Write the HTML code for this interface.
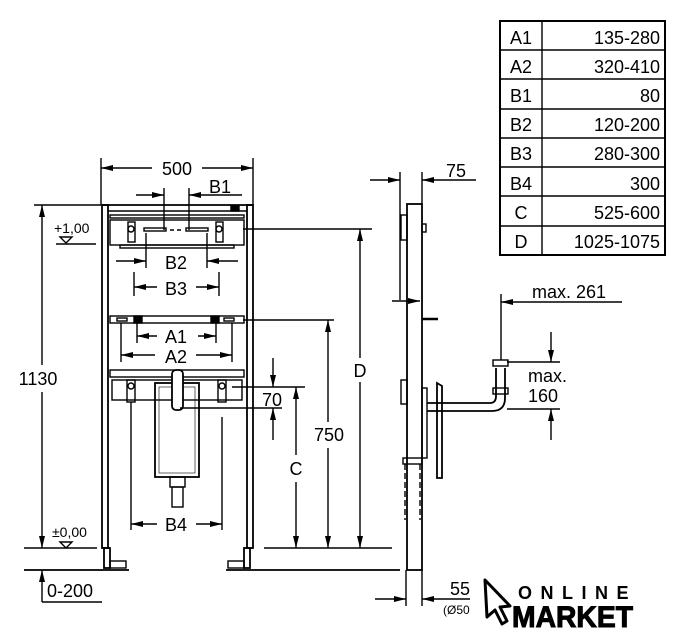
<!DOCTYPE html>
<html><head><meta charset="utf-8"><style>
html,body{margin:0;padding:0;background:#fff;}
svg{display:block;}
text{font-family:"Liberation Sans",sans-serif;fill:#000;}
</style></head><body>
<svg width="687" height="640" viewBox="0 0 687 640" xmlns="http://www.w3.org/2000/svg">
<defs>
<marker id="a" viewBox="0 0 12 6" refX="12" refY="3" markerWidth="13" markerHeight="6" orient="auto" markerUnits="userSpaceOnUse">
<path d="M0,0 L12,3 L0,6 Z" fill="#000"/></marker>
</defs>
<g stroke="#000" fill="none" stroke-width="1.4">
<rect x="500" y="21" width="165" height="234" stroke-width="2"/>
<line x1="542" y1="21" x2="542" y2="255"/>
<line x1="500" y1="50" x2="665" y2="50"/><line x1="500" y1="79" x2="665" y2="79"/>
<line x1="500" y1="109" x2="665" y2="109"/><line x1="500" y1="138" x2="665" y2="138"/>
<line x1="500" y1="167" x2="665" y2="167"/><line x1="500" y1="196" x2="665" y2="196"/>
<line x1="500" y1="226" x2="665" y2="226"/>

<rect x="102" y="205" width="6" height="343" stroke-width="1.8"/>
<rect x="247" y="205" width="6" height="343" stroke-width="1.8"/>
<rect x="104" y="548" width="6" height="20" stroke-width="1.8"/>
<rect x="244" y="548" width="6" height="20" stroke-width="1.8"/>
<line x1="102" y1="205" x2="253" y2="205" stroke-width="1.8"/>
<line x1="108" y1="211" x2="247" y2="211"/>
<rect x="110" y="215" width="134" height="3"/>
<rect x="110" y="220" width="134" height="25"/>
<rect x="120" y="245" width="114" height="3"/>
<rect x="231" y="206" width="8" height="5" fill="#000"/>
<rect x="128" y="222" width="7" height="20"/><rect x="216" y="222" width="7" height="20"/>
<circle cx="131" cy="229" r="3"/><circle cx="219" cy="229" r="3"/>
<rect x="144" y="228" width="22" height="3"/><rect x="186" y="228" width="22" height="3"/>
<line x1="170" y1="230" x2="182" y2="230" stroke-dasharray="4 3"/>
<rect x="110" y="316" width="134" height="7"/>
<rect x="134" y="316" width="8" height="7" fill="#000"/><rect x="211" y="316" width="8" height="7" fill="#000"/>
<rect x="117" y="318" width="10" height="3"/><rect x="224" y="318" width="10" height="3"/>
<rect x="110" y="370" width="134" height="7"/>
<rect x="112" y="380" width="130" height="20"/>
<rect x="127" y="380" width="8" height="22"/><rect x="218" y="380" width="8" height="22"/>
<circle cx="131" cy="386" r="3"/><circle cx="222" cy="386" r="3"/>
<rect x="155" y="383" width="44" height="94" stroke-width="1.8"/>
<rect x="159" y="387" width="36" height="86" stroke-width="0.6"/>
<rect x="172" y="370" width="11" height="40" rx="4" fill="#fff" stroke-width="1.8"/>
<rect x="170" y="477" width="15" height="10"/><rect x="172" y="487" width="11" height="20"/>
<line x1="131" y1="402" x2="131" y2="530"/>
<line x1="222" y1="417" x2="222" y2="530"/>
<rect x="110" y="561" width="16" height="7"/><rect x="228" y="561" width="16" height="7"/>

<line x1="24" y1="548" x2="97" y2="548"/>
<line x1="264" y1="548" x2="392" y2="548"/>
<line x1="24" y1="570" x2="129" y2="570" stroke-width="1.8"/>
<line x1="226" y1="570" x2="400" y2="570" stroke-width="1.8"/>
<line x1="56" y1="244" x2="96" y2="244"/>
<path d="M60,237 L72,237 L66,243 Z"/>
<path d="M60,542 L72,542 L66,548 Z"/>

<line x1="101" y1="158" x2="101" y2="205"/><line x1="253" y1="158" x2="253" y2="205"/>
<line x1="152" y1="168" x2="101" y2="168" marker-end="url(#a)"/>
<line x1="202" y1="168" x2="253" y2="168" marker-end="url(#a)"/>
<line x1="164" y1="188" x2="164" y2="230"/><line x1="189" y1="188" x2="189" y2="230"/>
<line x1="136" y1="195" x2="164" y2="195" marker-end="url(#a)"/>
<line x1="242" y1="195" x2="189" y2="195" marker-end="url(#a)"/>
<line x1="146" y1="233" x2="146" y2="268"/><line x1="207" y1="233" x2="207" y2="268"/>
<line x1="116" y1="261" x2="146" y2="261" marker-end="url(#a)"/>
<line x1="238" y1="261" x2="207" y2="261" marker-end="url(#a)"/>
<line x1="134" y1="272" x2="134" y2="296"/><line x1="219" y1="272" x2="219" y2="296"/>
<line x1="157" y1="287" x2="134" y2="287" marker-end="url(#a)"/>
<line x1="196" y1="287" x2="219" y2="287" marker-end="url(#a)"/>
<line x1="137" y1="323" x2="137" y2="343"/><line x1="216" y1="323" x2="216" y2="343"/>
<line x1="157" y1="336" x2="137" y2="336" marker-end="url(#a)"/>
<line x1="198" y1="336" x2="216" y2="336" marker-end="url(#a)"/>
<line x1="121" y1="323" x2="121" y2="362"/><line x1="232" y1="323" x2="232" y2="362"/>
<line x1="155" y1="355" x2="121" y2="355" marker-end="url(#a)"/>
<line x1="196" y1="355" x2="232" y2="355" marker-end="url(#a)"/>
<line x1="157" y1="524" x2="131" y2="524" marker-end="url(#a)"/>
<line x1="196" y1="524" x2="222" y2="524" marker-end="url(#a)"/>
<line x1="34" y1="205" x2="101" y2="205"/>
<line x1="42" y1="365" x2="42" y2="205" marker-end="url(#a)"/>
<line x1="42" y1="392" x2="42" y2="548" marker-end="url(#a)"/>
<line x1="42" y1="602" x2="42" y2="570" marker-end="url(#a)"/>
<line x1="42" y1="602" x2="102" y2="602"/>
<line x1="243" y1="229" x2="372" y2="229"/>
<line x1="243" y1="320" x2="334" y2="320"/>
<line x1="232" y1="387" x2="305" y2="387"/>
<line x1="180" y1="408" x2="282" y2="408"/>
<line x1="360" y1="358" x2="360" y2="229" marker-end="url(#a)"/>
<line x1="360" y1="382" x2="360" y2="548" marker-end="url(#a)"/>
<line x1="328" y1="422" x2="328" y2="320" marker-end="url(#a)"/>
<line x1="328" y1="448" x2="328" y2="548" marker-end="url(#a)"/>
<line x1="296" y1="455" x2="296" y2="387" marker-end="url(#a)"/>
<line x1="296" y1="482" x2="296" y2="548" marker-end="url(#a)"/>
<line x1="273" y1="358" x2="273" y2="387" marker-end="url(#a)"/>
<line x1="273" y1="440" x2="273" y2="408" marker-end="url(#a)"/>

<rect x="407" y="204" width="15" height="366" stroke-width="1.8"/>
<rect x="401" y="215" width="6" height="25"/>
<rect x="422" y="224" width="4" height="8"/>
<line x1="422" y1="319" x2="438" y2="319" stroke-width="2.5"/>
<rect x="401" y="380" width="6" height="24"/>
<rect x="422" y="388" width="5" height="70"/>
<rect x="403" y="458" width="19" height="6"/>
<path d="M405,464 V520 M420,464 V520" stroke-dasharray="6 3"/>
<path d="M437,383 L442,386 L442,478 L437,478 Z" stroke-width="1.8"/>
<path d="M427,403 H490 Q496,403 496,396 V368 M427,411 H492 Q505,411 505,398 V368" stroke-width="1.8"/>
<rect x="493" y="360" width="15" height="6"/><rect x="493" y="388" width="15" height="6"/>
<line x1="400" y1="172" x2="400" y2="300"/><line x1="422" y1="172" x2="422" y2="204"/>
<line x1="370" y1="180" x2="400" y2="180" marker-end="url(#a)"/>
<line x1="476" y1="180" x2="422" y2="180" marker-end="url(#a)"/>
<line x1="392" y1="301" x2="420" y2="301" marker-end="url(#a)"/>
<line x1="501" y1="294" x2="501" y2="360"/>
<line x1="622" y1="302" x2="501" y2="302" marker-end="url(#a)"/>
<line x1="507" y1="362" x2="560" y2="362"/><line x1="507" y1="409" x2="560" y2="409"/>
<line x1="551" y1="332" x2="551" y2="362" marker-end="url(#a)"/>
<line x1="551" y1="440" x2="551" y2="409" marker-end="url(#a)"/>
<line x1="406" y1="570" x2="406" y2="606"/><line x1="422" y1="570" x2="422" y2="606"/>
<line x1="375" y1="599" x2="406" y2="599" marker-end="url(#a)"/>
<line x1="470" y1="599" x2="422" y2="599" marker-end="url(#a)"/>
</g>

<g font-size="18">
<text x="510" y="44">A1</text><text x="660" y="44" text-anchor="end">135-280</text>
<text x="510" y="73">A2</text><text x="660" y="73" text-anchor="end">320-410</text>
<text x="510" y="102">B1</text><text x="660" y="102" text-anchor="end">80</text>
<text x="510" y="131">B2</text><text x="660" y="131" text-anchor="end">120-200</text>
<text x="510" y="160">B3</text><text x="660" y="160" text-anchor="end">280-300</text>
<text x="510" y="190">B4</text><text x="660" y="190" text-anchor="end">300</text>
<text x="521" y="219" text-anchor="middle">C</text><text x="660" y="219" text-anchor="end">525-600</text>
<text x="521" y="248" text-anchor="middle">D</text><text x="660" y="248" text-anchor="end">1025-1075</text>

<text x="177" y="175" text-anchor="middle">500</text>
<text x="220" y="193" text-anchor="middle">B1</text>
<text x="176" y="269" text-anchor="middle">B2</text>
<text x="176" y="295" text-anchor="middle">B3</text>
<text x="176" y="343" text-anchor="middle">A1</text>
<text x="176" y="363" text-anchor="middle">A2</text>
<text x="176" y="531" text-anchor="middle">B4</text>
<text x="38" y="385" text-anchor="middle">1130</text>
<text x="47" y="597">0-200</text>
<text x="272" y="406" text-anchor="middle">70</text>
<text x="329" y="441" text-anchor="middle">750</text>
<text x="296" y="475" text-anchor="middle">C</text>
<text x="360" y="377" text-anchor="middle">D</text>
<text x="456" y="177" text-anchor="middle">75</text>
<text x="532" y="298">max. 261</text>
<text x="528" y="382">max.</text>
<text x="528" y="402">160</text>
<text x="450" y="595">55</text>
</g>
<text x="54" y="233" font-size="14">+1,00</text>
<text x="52" y="537" font-size="14">±0,00</text>
<text x="443" y="614" font-size="12">(Ø50</text>

<rect x="473" y="574" width="170" height="62" fill="#fff"/>
<path d="M485,580 L510,606 L500,607 L507,621 L502,624 L495,610 L487,617 Z" fill="#fff" stroke="#000" stroke-width="3" stroke-linejoin="round"/>
<text x="518" y="599" font-size="18" font-weight="bold" letter-spacing="8.5">ONLINE</text>
<text x="512" y="627" font-size="30" font-weight="bold" stroke="#000" stroke-width="1" textLength="121" lengthAdjust="spacingAndGlyphs">MARKET</text>
</svg>
</body></html>
